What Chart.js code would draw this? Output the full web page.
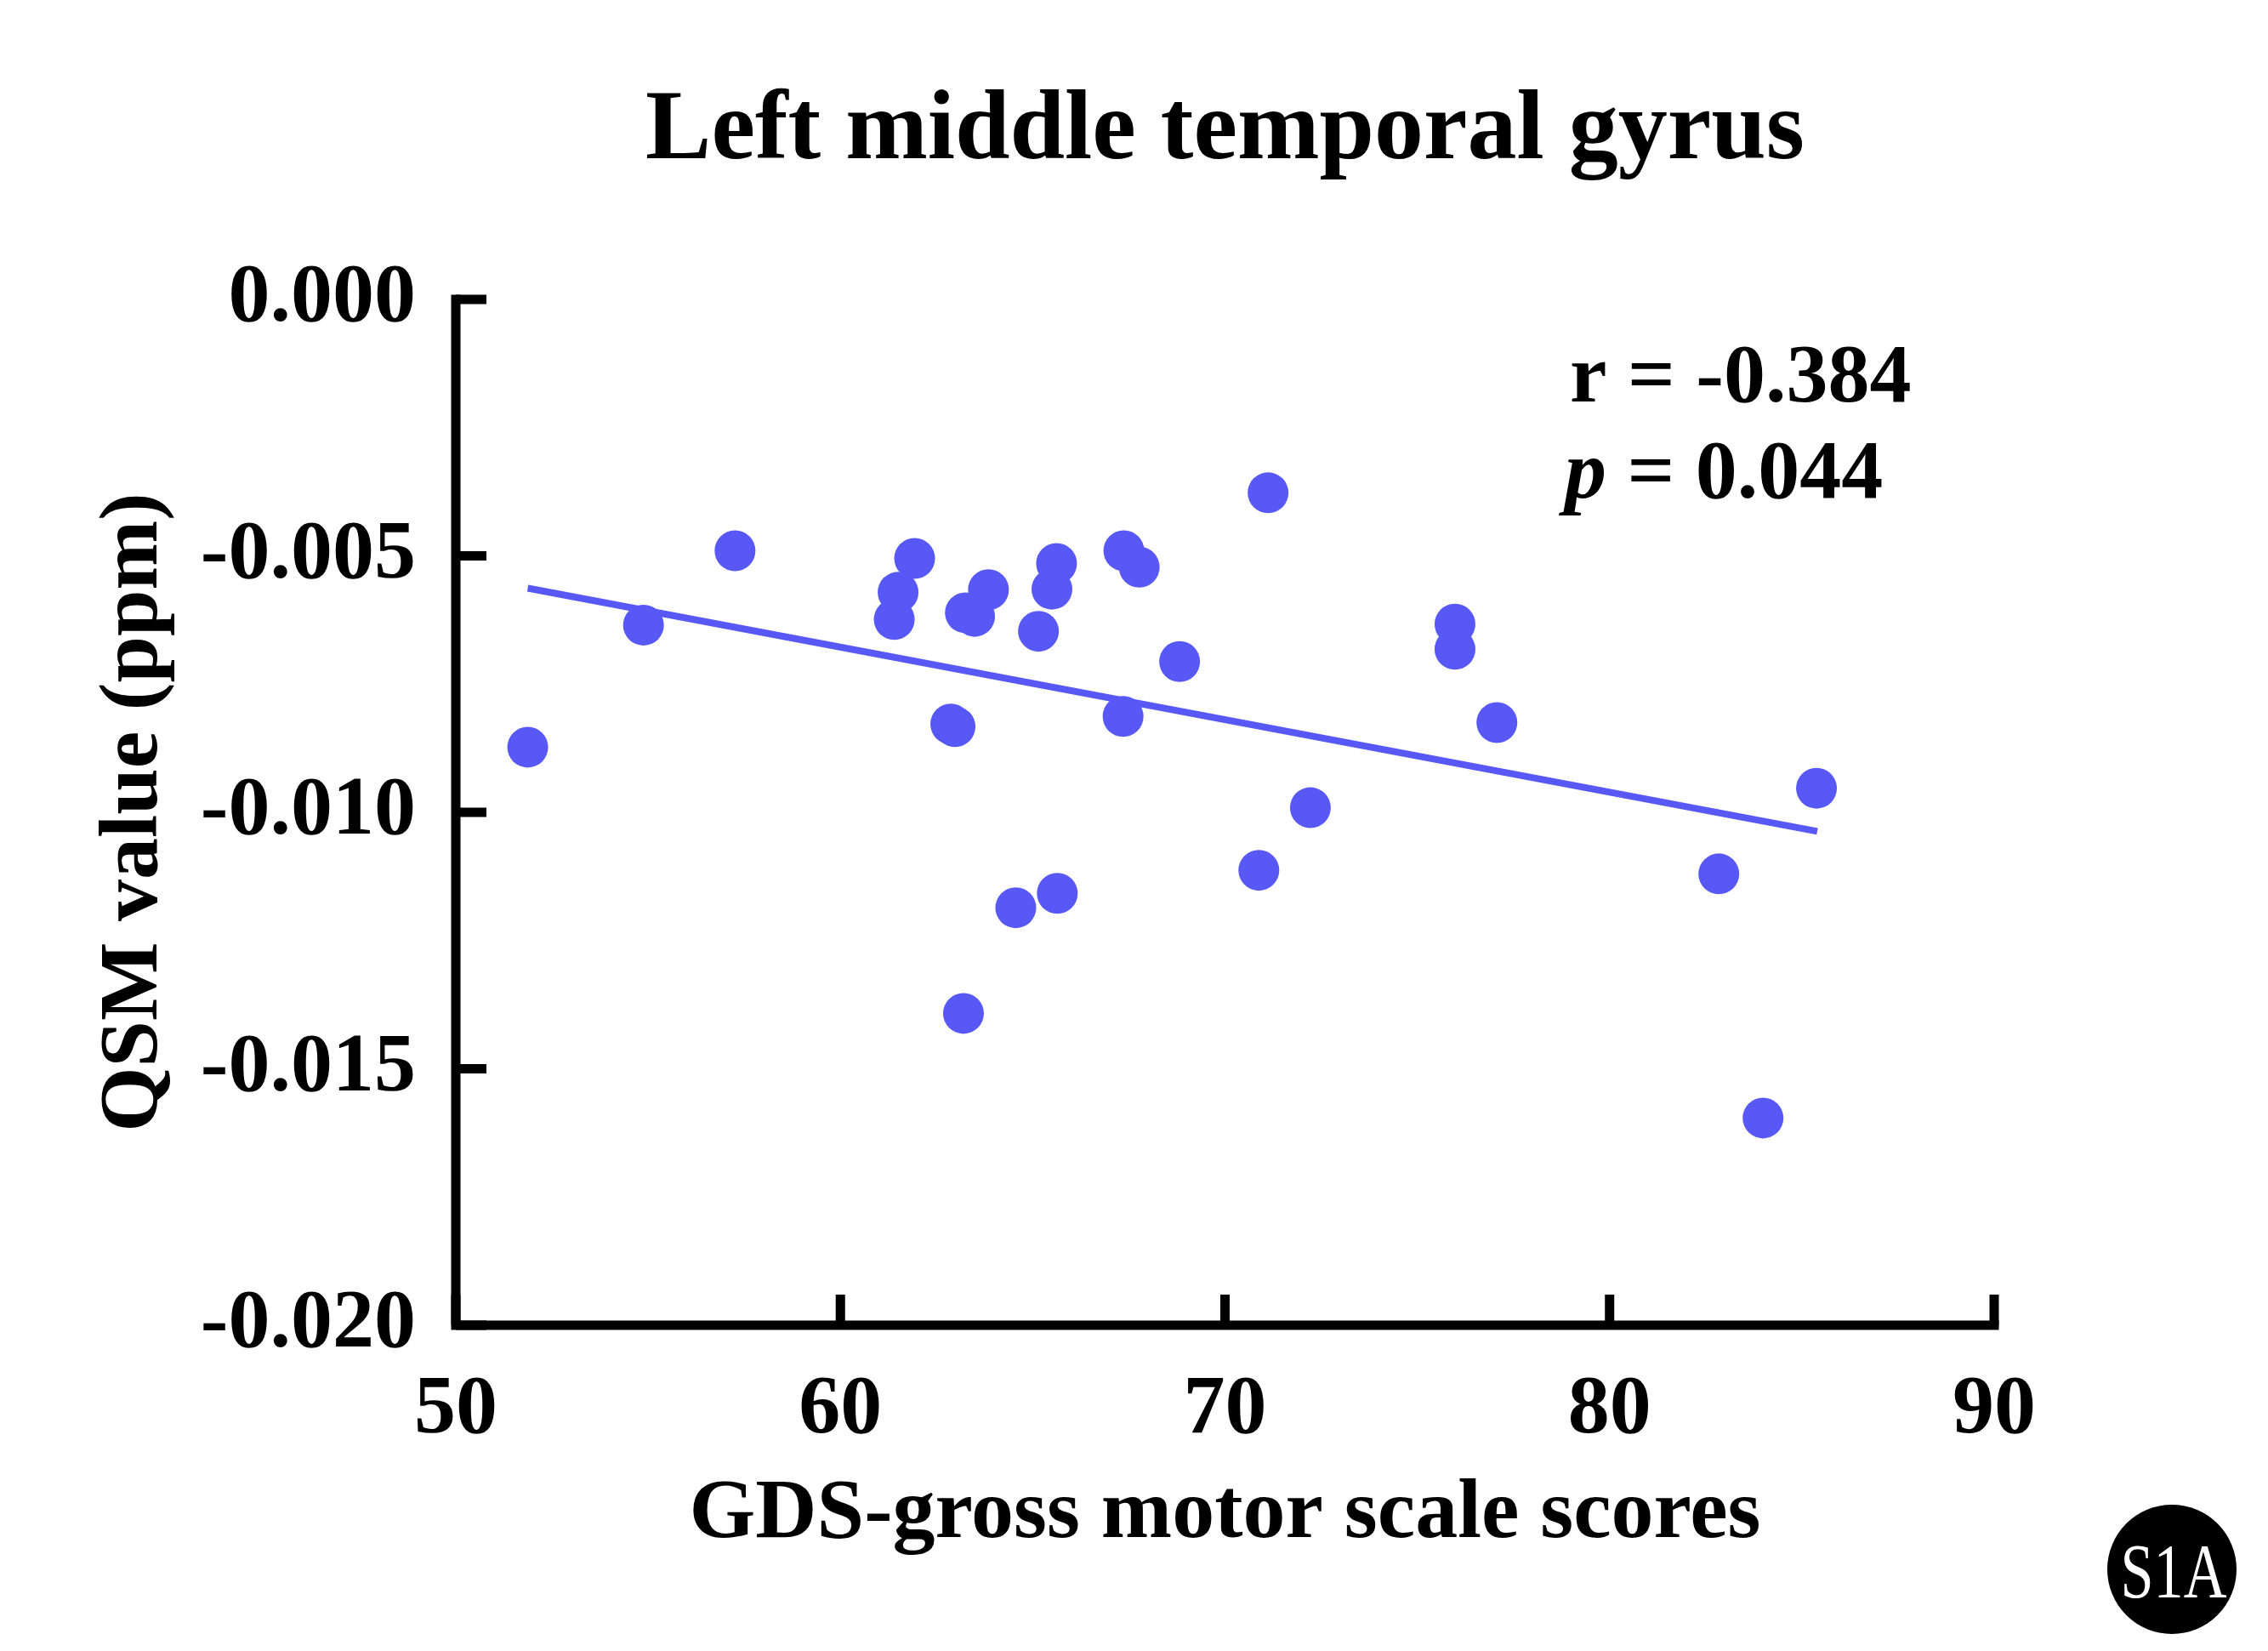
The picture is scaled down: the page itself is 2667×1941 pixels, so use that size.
<!DOCTYPE html>
<html>
<head>
<meta charset="utf-8">
<title>Left middle temporal gyrus</title>
<script src="https://cdn.jsdelivr.net/npm/chart.js@4.4.1/dist/chart.umd.min.js"></script>
<style>
  html, body { margin: 0; padding: 0; background: #fff; }
  canvas { display: block; }
</style>
</head>
<body>
<canvas id="chart" width="2667" height="1941"></canvas>
<script>
// values
const gdsScores = [51.87, 54.88, 57.26, 61.93, 61.50, 61.40, 63.25, 63.49, 63.85, 65.15,
                   65.62, 65.50, 67.37, 67.77, 68.82, 67.35, 62.87, 62.98, 64.56, 65.64,
                   63.20, 71.12, 70.88, 72.22, 75.98, 75.98, 77.07, 82.84, 83.99, 85.38];
const qsmValues = [-0.00873, -0.00635, -0.00490, -0.00505, -0.00571, -0.00624, -0.00611, -0.00618, -0.00566, -0.00647,
                   -0.00515, -0.00565, -0.00490, -0.00522, -0.00706, -0.00813, -0.00828, -0.00833, -0.01186, -0.01158,
                   -0.01392, -0.00377, -0.01113, -0.00991, -0.00633, -0.00682, -0.00825, -0.01120, -0.01596, -0.00953];

// regression line end points
const fitX = [51.87, 85.4];
const fitY = [-0.00563, -0.01037];

const xTicks = [50, 60, 70, 80, 90];
const yTicks = [0, -0.005, -0.010, -0.015, -0.020];

const titleText = 'Left middle temporal gyrus';
const xTitle = 'GDS-gross motor scale scores';
const yTitle = 'QSM value (ppm)';
const rText = 'r = -0.384';
const pValue = ' = 0.044';
const badgeText = 'S1A';

const SERIF = "'Liberation Serif', 'Times New Roman', serif";
const DOT = '#5858F6';

// axis lines with inward ticks, drawn by hand
const axisMarks = {
  id: 'axisMarks',
  afterDraw(chart) {
    const { ctx } = chart;
    const x = chart.scales.x, y = chart.scales.y;
    const left = x.getPixelForValue(xTicks[0]);
    const right = x.getPixelForValue(xTicks[xTicks.length - 1]);
    const top = y.getPixelForValue(yTicks[0]);
    const bottom = y.getPixelForValue(yTicks[yTicks.length - 1]);
    ctx.save();
    ctx.strokeStyle = '#000';
    ctx.lineWidth = 11;
    ctx.lineCap = 'square';
    ctx.beginPath();
    ctx.moveTo(left, top);
    ctx.lineTo(left, bottom);
    ctx.lineTo(right, bottom);
    ctx.stroke();
    ctx.lineCap = 'butt';
    ctx.beginPath();
    yTicks.forEach(v => {
      const py = y.getPixelForValue(v);
      ctx.moveTo(left, py);
      ctx.lineTo(left + 36, py);
    });
    xTicks.forEach(v => {
      const px = x.getPixelForValue(v);
      ctx.moveTo(px, bottom);
      ctx.lineTo(px, bottom - 36);
    });
    ctx.stroke();
    ctx.restore();
  }
};

// title, r / p annotation and the S1A badge
const labels = {
  id: 'labels',
  afterDraw(chart) {
    const { ctx, chartArea } = chart;
    ctx.save();
    ctx.fillStyle = '#000';
    ctx.textBaseline = 'alphabetic';

    ctx.font = 'bold 116px ' + SERIF;
    ctx.textAlign = 'center';
    ctx.fillText(titleText, (chartArea.left + chartArea.right) / 2, 186);

    ctx.textAlign = 'left';
    ctx.font = 'bold 98px ' + SERIF;
    ctx.fillText(rText, 1846, 472);
    ctx.font = 'italic bold 98px ' + SERIF;
    ctx.fillText('p', 1840, 585);
    const pw = ctx.measureText('p').width;
    ctx.font = 'bold 98px ' + SERIF;
    ctx.fillText(pValue, 1840 + pw, 585);

    ctx.beginPath();
    ctx.arc(2554, 1845, 76, 0, Math.PI * 2);
    ctx.fill();
    ctx.fillStyle = '#fff';
    ctx.font = '90px ' + SERIF;
    ctx.textAlign = 'center';
    ctx.translate(2556, 1878);
    ctx.scale(0.78, 1);
    ctx.fillText(badgeText, 0, 0);
    ctx.restore();
  }
};

new Chart(document.getElementById('chart'), {
  type: 'scatter',
  data: {
    datasets: [{
      type: 'scatter',
      data: gdsScores.map((v, i) => ({ x: v, y: qsmValues[i] })),
      backgroundColor: DOT,
      borderWidth: 0,
      pointRadius: 24,
      pointHoverRadius: 24,
      order: 1
    }, {
      type: 'line',
      data: fitX.map((v, i) => ({ x: v, y: fitY[i] })),
      borderColor: DOT,
      borderWidth: 8,
      pointRadius: 0,
      fill: false,
      order: 2
    }]
  },
  options: {
    responsive: false,
    animation: false,
    devicePixelRatio: 1,
    layout: { padding: { top: 352, right: 322, left: 0, bottom: 0 } },
    plugins: { legend: { display: false }, tooltip: { enabled: false } },
    scales: {
      x: {
        type: 'linear',
        min: xTicks[0],
        max: xTicks[xTicks.length - 1],
        afterBuildTicks: s => { s.ticks = xTicks.map(v => ({ value: v })); },
        afterFit: s => { s.height = 383; },
        grid: { display: false, drawTicks: false },
        border: { display: false },
        ticks: {
          color: '#000',
          padding: 42,
          maxRotation: 0,
          font: { family: SERIF, size: 98, weight: 'bold' }
        },
        title: {
          display: true,
          text: xTitle,
          color: '#000',
          padding: { top: 0, bottom: 100 },
          font: { family: SERIF, size: 100, weight: 'bold' }
        }
      },
      y: {
        type: 'linear',
        min: yTicks[yTicks.length - 1],
        max: yTicks[0],
        afterBuildTicks: s => { s.ticks = yTicks.map(v => ({ value: v })); },
        afterFit: s => { s.width = 536; },
        grid: { display: false, drawTicks: false },
        border: { display: false },
        ticks: {
          color: '#000',
          padding: 47,
          callback: v => v.toFixed(3),
          font: { family: SERIF, size: 98, weight: 'bold' }
        },
        title: {
          display: true,
          text: yTitle,
          color: '#000',
          padding: { top: 100, bottom: 0 },
          font: { family: SERIF, size: 98, weight: 'bold' }
        }
      }
    }
  },
  plugins: [axisMarks, labels]
});
</script>
</body>
</html>
